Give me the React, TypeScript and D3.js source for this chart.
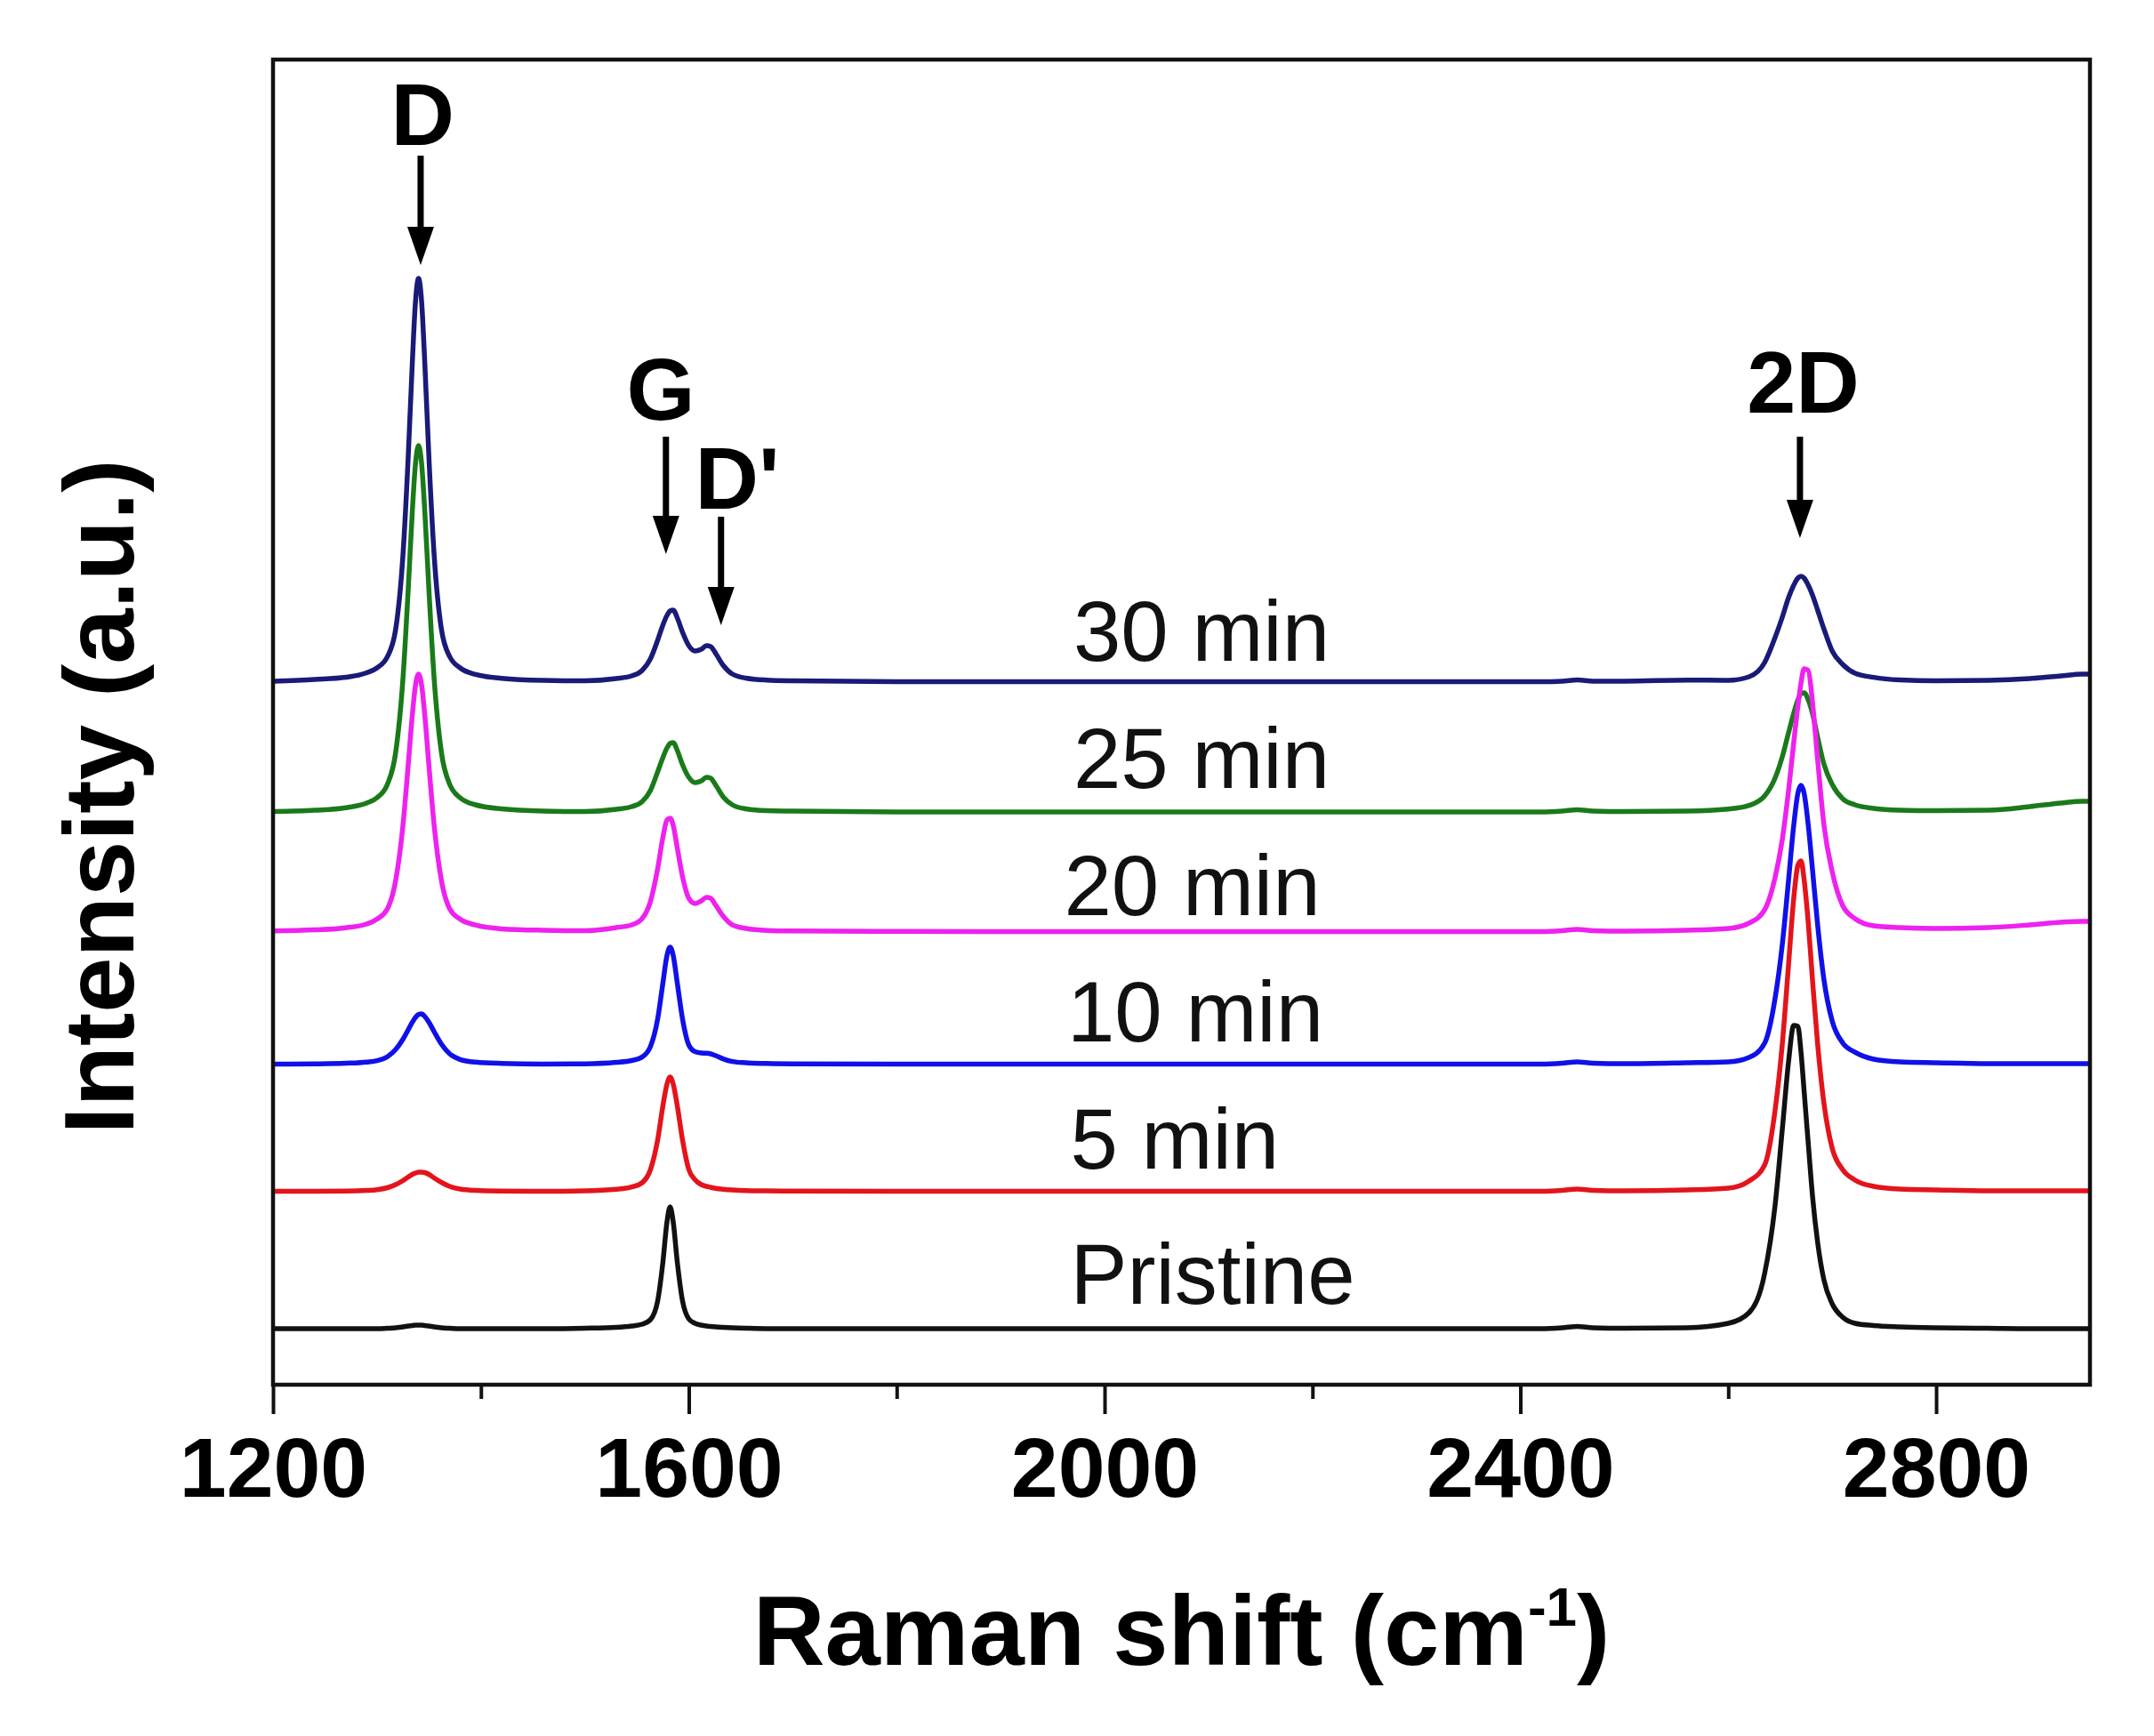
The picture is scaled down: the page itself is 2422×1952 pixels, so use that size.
import React, { useEffect, useRef } from "react";
import * as d3 from "d3";

// Raman shift grid (cm^-1)
const WAVENUMBERS = [
  1200, 1240, 1270, 1290, 1300, 1310, 1318, 1325, 1330, 1334, 1337, 1340, 1343, 1346, 1350, 1355, 1362, 1370, 1380, 1395,
  1420, 1460, 1500, 1530, 1545, 1555, 1563, 1570, 1575, 1579, 1582, 1585, 1589, 1594, 1600, 1606, 1612, 1617, 1621, 1626,
  1633, 1642, 1655, 1675, 1700, 1800, 2000, 2200, 2350, 2420, 2440, 2455, 2470, 2500, 2560, 2600, 2620, 2635, 2645, 2652,
  2658, 2663, 2667, 2670, 2673, 2677, 2681, 2686, 2692, 2700, 2710, 2722, 2740, 2765, 2800, 2850, 2890, 2920, 2940, 2948,
];

const SERIES_NAMES = ["30 min", "25 min", "20 min", "10 min", "5 min", "Pristine"];
const SERIES_COLORS = ["#1a1a78", "#1a7a1a", "#ee22ee", "#1010e8", "#e3141c", "#111111"];
// vertical stacking offset of every spectrum (a.u.)
const OFFSETS = [790, 643, 509, 360, 217, 63];

const I_30 = [
  1, 3, 5.5, 10.5, 16, 28.6, 59.5, 143, 252, 359, 427, 454, 427, 359, 252, 143, 59.5, 28.6, 16, 8.6,
  4.3, 2, 1.5, 4, 7, 13, 26, 47, 64, 75, 80, 81, 72, 56, 41, 35, 37, 41, 40, 32,
  19, 9, 4.5, 2.3, 1.5, 0.5, 0.5, 0.5, 0.5, 0.5, 1, 2.5, 1, 1, 2.3, 2, 6, 22, 50, 73,
  95, 109, 117, 119, 117, 109, 98, 81, 60, 35, 20, 10, 5.4, 2.5, 1.5, 2, 4, 7, 9, 9,
];
const I_25 = [
  1.5, 2.9, 5.8, 11, 17, 32, 68, 151, 250, 339, 392, 413, 392, 339, 250, 151, 68, 32, 17, 9,
  4.5, 2, 1.5, 4, 7, 12.5, 25, 46, 62, 73, 78, 79, 70, 54, 40, 34, 36, 40, 39, 31,
  18, 9, 4.5, 2.5, 2, 1, 1, 1, 1, 1, 2, 3.5, 2, 1.5, 2, 4.3, 8.4, 19, 39, 63,
  90, 112, 127, 134, 135, 127, 112, 85, 55, 32, 16, 9, 5, 3, 2.5, 3, 7, 11, 13, 13,
];
const I_20 = [
  1.2, 2.4, 4.8, 9, 14.5, 26, 58, 120, 187, 244, 277, 290, 277, 244, 187, 120, 58, 26, 14.5, 7.8,
  3.6, 2, 1.5, 5, 8, 15, 34, 71, 106, 126, 128, 120, 94, 62, 38, 32, 35, 39, 38, 30,
  18, 8, 4, 1.8, 1.2, 0.8, 0.5, 0.5, 0.5, 0.5, 1.5, 3, 1.5, 1, 2, 4, 10, 25, 61, 104,
  159, 213, 254, 280, 296, 294, 259, 194, 121, 68, 30, 15, 7, 5, 4, 5, 8, 11, 12, 12,
];
const I_10 = [
  0.5, 0.8, 1.5, 2.8, 4.4, 8.8, 17, 28.5, 39, 47.6, 53, 56.4, 57, 54, 47.6, 37, 23, 12, 5.7, 2.7,
  1.3, 0.6, 0.8, 2.4, 4.5, 8.4, 20, 51, 91, 122.6, 132, 122.6, 91, 51, 22, 14.5, 13, 12.7, 12, 10,
  6.4, 3.4, 2, 1.2, 0.8, 0.5, 0.5, 0.5, 0.5, 0.5, 1.5, 3, 1.5, 1, 2, 3, 8, 24, 74, 135,
  207, 269, 305, 314, 305, 269, 220, 157, 96, 49, 24.5, 13.8, 6, 3, 2, 1, 1, 1, 1, 1,
];
const I_5 = [
  0.5, 0.5, 0.7, 1.4, 2.3, 4.5, 8, 12.5, 16.5, 19.5, 21, 22, 22, 21.5, 19.5, 15.5, 10.5, 6, 3, 1.5,
  0.8, 0.5, 1, 2.7, 5.3, 10, 24.5, 58, 96, 121, 129, 121, 96, 58, 25, 13.5, 8, 6, 5, 3.7,
  2.8, 2, 1.3, 1, 0.8, 0.5, 0.5, 0.5, 0.5, 0.5, 1.5, 3, 1.5, 1, 2, 4, 12, 30, 91, 166,
  255, 330, 367, 372, 351, 302, 239, 166, 100, 49, 25, 13, 6, 3, 2, 1, 1, 1, 1, 1,
];
const I_PRISTINE = [
  0, 0, 0, 0, 0, 0.5, 1, 2, 3, 3.5, 4, 4, 4, 3.5, 3, 2, 1, 0.5, 0, 0,
  0, 0, 0.5, 1.5, 3, 5, 10, 31, 74, 120, 137, 120, 74, 31, 11, 6, 4, 3, 2.5, 2,
  1.5, 1, 0.5, 0, 0, 0, 0, 0, 0, 0, 1, 2.5, 1, 0.5, 1, 6, 18, 62, 138, 224,
  300, 341, 340, 311, 267, 208, 150, 97, 55, 28, 13, 6, 3.5, 2, 1, 0.5, 0, 0, 0, 0,
];

// series label anchors (data units)
const LABEL_X = [1970, 1970, 1961, 1964, 1967, 1967];
const LABEL_Y = [814, 671, 528, 386, 243, 91];

const X_TICKS = [1200, 1600, 2000, 2400, 2800];
const X_MINOR_TICKS = [1400, 1800, 2200, 2600];

// peak annotations (data units)
const PEAK_NAMES = ["D", "G", "D'", "2D"];
const PEAK_ARROW_X = [1342, 1578, 1631, 2669];
const PEAK_LABEL_X = [1344, 1573, 1606, 2672];
const PEAK_LABEL_ANCHOR = ["middle", "middle", "start", "middle"];
const PEAK_LABEL_Y = [1394, 1085, 985, 1093];
const PEAK_ARROW_TOP = [1382, 1066, 976, 1066];
const PEAK_ARROW_TIP = [1259, 934, 854, 952];

export default function App() {
  const ref = useRef<SVGSVGElement>(null);

  useEffect(() => {
    const svg = d3.select(ref.current);
    svg.selectAll("*").remove();
    const left = 307, right = 2350, top = 67, bottom = 1557;
    const font = "'Liberation Sans', Arial, Helvetica, sans-serif";

    const x = d3.scaleLinear().domain([1200, 2948]).range([left, right]);
    const y = d3.scaleLinear().domain([0, 1490]).range([bottom, top]);

    svg.append("rect").attr("width", 2422).attr("height", 1952).attr("fill", "#fff");

    const seriesData = [I_30, I_25, I_20, I_10, I_5, I_PRISTINE];
    const line = d3
      .line<[number, number]>()
      .x((d) => x(d[0]))
      .y((d) => y(d[1]))
      .curve(d3.curveMonotoneX);

    seriesData.forEach((vals, i) => {
      const pts = WAVENUMBERS.map((w, j) => [w, OFFSETS[i] + vals[j]] as [number, number]);
      svg
        .append("path")
        .attr("d", line(pts) as string)
        .attr("fill", "none")
        .attr("stroke", SERIES_COLORS[i])
        .attr("stroke-width", 5.5)
        .attr("stroke-linejoin", "round");
    });

    // series labels
    SERIES_NAMES.forEach((name, i) => {
      svg
        .append("text")
        .attr("x", x(LABEL_X[i]))
        .attr("y", y(LABEL_Y[i]))
        .attr("font-family", font)
        .attr("font-size", 96)
        .attr("fill", "#111")
        .text(name);
    });

    // peak annotations
    PEAK_NAMES.forEach((name, i) => {
      const cx = x(PEAK_ARROW_X[i]);
      const tipY = y(PEAK_ARROW_TIP[i]);
      const headH = 43, headW = 30;
      svg
        .append("line")
        .attr("x1", cx)
        .attr("x2", cx)
        .attr("y1", y(PEAK_ARROW_TOP[i]))
        .attr("y2", tipY - headH + 4)
        .attr("stroke", "#000")
        .attr("stroke-width", 7);
      svg
        .append("path")
        .attr("d", `M${cx - headW / 2},${tipY - headH} L${cx + headW / 2},${tipY - headH} L${cx},${tipY} Z`)
        .attr("fill", "#000");
      svg
        .append("text")
        .attr("x", x(PEAK_LABEL_X[i]))
        .attr("y", y(PEAK_LABEL_Y[i]))
        .attr("text-anchor", PEAK_LABEL_ANCHOR[i])
        .attr("font-family", font)
        .attr("font-weight", "bold")
        .attr("font-size", 99)
        .attr("fill", "#000")
        .text(name);
    });

    // frame
    svg
      .append("rect")
      .attr("x", left)
      .attr("y", top)
      .attr("width", right - left)
      .attr("height", bottom - top)
      .attr("fill", "none")
      .attr("stroke", "#111")
      .attr("stroke-width", 4.5);

    // x axis
    const gMaj = svg.append("g").attr("transform", `translate(0,${bottom})`);
    gMaj.call(d3.axisBottom(x).tickValues(X_TICKS).tickSize(33).tickSizeOuter(0).tickFormat(d3.format("d")));
    gMaj.select(".domain").remove();
    gMaj.selectAll(".tick line").attr("stroke", "#111").attr("stroke-width", 4);
    gMaj
      .selectAll(".tick text")
      .attr("y", 126)
      .attr("dy", null)
      .attr("font-family", font)
      .attr("font-weight", "bold")
      .attr("font-size", 95)
      .attr("fill", "#000");

    const gMin = svg.append("g").attr("transform", `translate(0,${bottom})`);
    gMin.call(d3.axisBottom(x).tickValues(X_MINOR_TICKS).tickSize(16).tickSizeOuter(0).tickFormat(() => ""));
    gMin.select(".domain").remove();
    gMin.selectAll(".tick line").attr("stroke", "#111").attr("stroke-width", 4);

    // axis titles
    const xt = svg
      .append("text")
      .attr("x", (left + right) / 2)
      .attr("y", 1872)
      .attr("text-anchor", "middle")
      .attr("font-family", font)
      .attr("font-weight", "bold")
      .attr("font-size", 112)
      .attr("fill", "#000");
    xt.append("tspan").text("Raman shift (cm");
    xt.append("tspan").attr("dy", -44).attr("font-size", 62).text("-1");
    xt.append("tspan").attr("dy", 44).text(")");

    svg
      .append("text")
      .attr("transform", `translate(150,${896}) rotate(-90)`)
      .attr("text-anchor", "middle")
      .attr("font-family", font)
      .attr("font-weight", "bold")
      .attr("font-size", 112)
      .attr("fill", "#000")
      .text("Intensity (a.u.)");
  }, []);

  return (
    <svg
      ref={ref}
      width={2422}
      height={1952}
      style={{ position: "absolute", left: 0, top: 0, display: "block" }}
    />
  );
}
